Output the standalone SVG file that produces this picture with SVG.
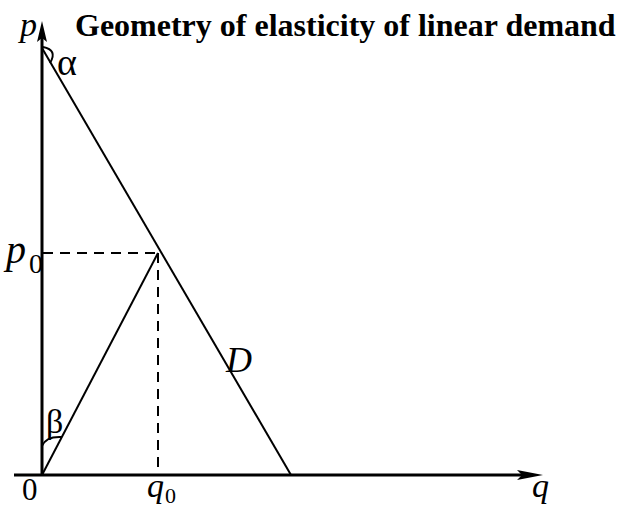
<svg xmlns="http://www.w3.org/2000/svg" width="618" height="507" viewBox="0 0 618 507">
<style>
.t{fill:#000}
.ax{stroke:#000;stroke-width:3;fill:none}
.ln{stroke:#000;stroke-width:2;fill:none}
.ds{stroke:#000;stroke-width:2;fill:none;stroke-dasharray:10,7}
</style>
<rect width="618" height="507" fill="#fff"/>
<g font-family="'Liberation Serif', 'Times New Roman', serif">
<text class="t" x="75" y="36" font-size="32" font-weight="bold">Geometry of elasticity of linear demand</text>
<g id="connectors">
<line class="ax" x1="42" y1="476" x2="42" y2="36"/>
<path d="M42,21 L47,42 L42,38 L37,42 Z" fill="#000"/>
<line class="ax" x1="14" y1="475" x2="530" y2="475"/>
<path d="M543,475 L517,470 L522,475 L517,480 Z" fill="#000"/>
<line class="ln" x1="42" y1="48" x2="291" y2="475"/>
<line class="ln" x1="42" y1="475" x2="158" y2="253"/>
<line class="ds" x1="43" y1="253" x2="158" y2="253"/>
<line class="ds" x1="158" y1="253" x2="158" y2="475"/>
<path class="ln" d="M43,47 Q58,50 50,63"/>
<path class="ln" d="M42,446 Q46,436 62,437"/>
</g>
<g id="labels">
<text class="t" x="20" y="36" font-size="34" font-style="italic">p</text>
<text class="t" x="57" y="75" font-size="38">α</text>
<text class="t" x="6" y="263" font-size="40" font-style="italic">p</text>
<text class="t" x="29" y="273" font-size="28">0</text>
<text class="t" x="226" y="372" font-size="36" font-style="italic">D</text>
<text class="t" x="46" y="433" font-size="34">β</text>
<text class="t" x="22" y="500" font-size="31">0</text>
<text class="t" x="147" y="497" font-size="34" font-style="italic">q</text>
<text class="t" x="165" y="503" font-size="22">0</text>
<text class="t" x="532" y="497" font-size="34" font-style="italic">q</text>
</g>
</g>
</svg>
